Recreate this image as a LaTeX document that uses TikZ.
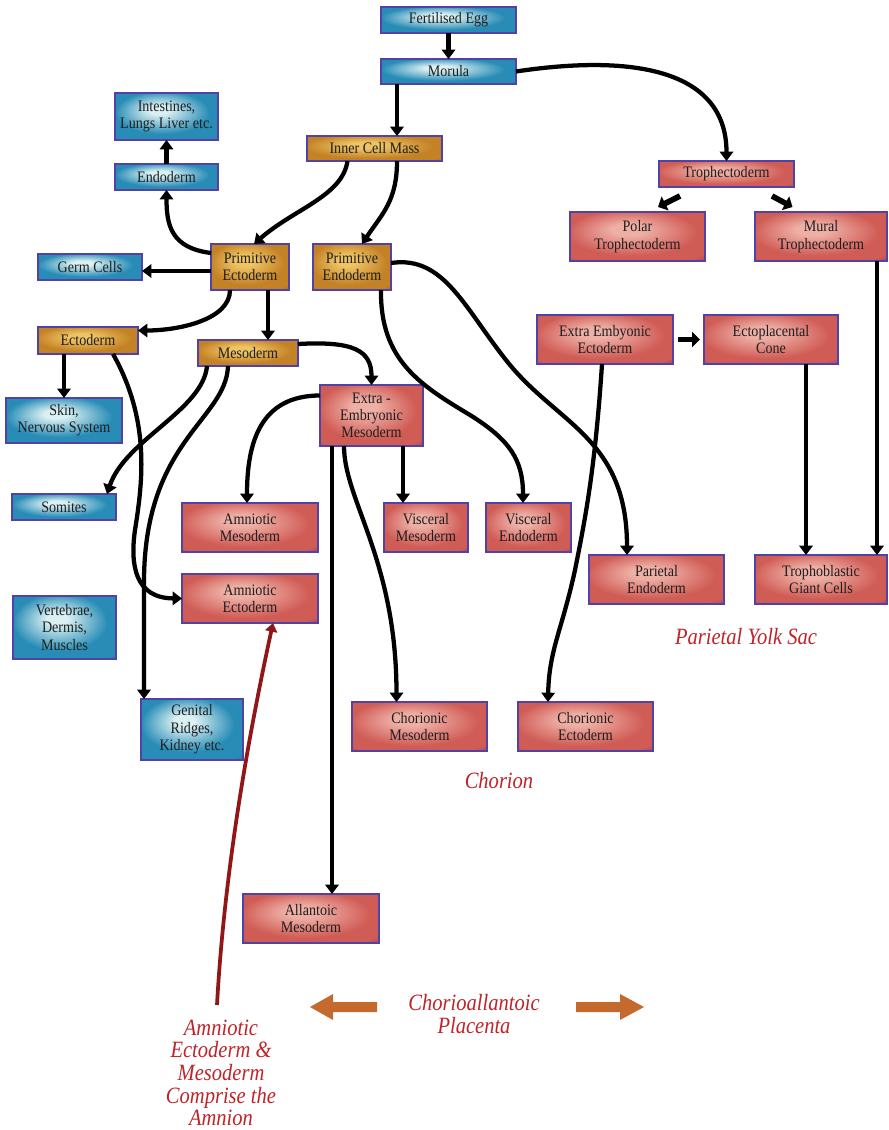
\documentclass[tikz,border=0pt]{standalone}
\usepackage{fontspec}
\setmainfont{Liberation Serif}
\newfontfamily\boxfont[FakeStretch=0.88]{Liberation Serif}
\newfontfamily\labfont[FakeStretch=0.88]{Liberation Serif}
\usetikzlibrary{arrows.meta,calc}
\definecolor{bluein}{RGB}{218,240,242}
\definecolor{blueout}{RGB}{40,140,182}
\definecolor{bluedark}{RGB}{32,72,135}
\definecolor{orin}{RGB}{238,196,100}
\definecolor{orout}{RGB}{196,130,38}
\definecolor{ordark}{RGB}{110,62,45}
\definecolor{redin}{RGB}{238,175,165}
\definecolor{redout}{RGB}{208,92,86}
\definecolor{reddark}{RGB}{92,42,122}
\definecolor{boxline}{RGB}{82,66,165}
\definecolor{labred}{RGB}{192,36,40}
\definecolor{amred}{RGB}{145,22,24}
\definecolor{plac}{RGB}{196,106,46}
\definecolor{txt}{RGB}{30,30,30}
\pgfdeclareradialshading{blueshade}{\pgfqpoint{-4bp}{8bp}}{color(0bp)=(bluein); color(5bp)=(bluein); color(23bp)=(blueout); color(34bp)=(blueout); color(46bp)=(bluedark); color(50bp)=(bluedark)}
\pgfdeclareradialshading{orangeshade}{\pgfqpoint{-4bp}{8bp}}{color(0bp)=(orin); color(6bp)=(orin); color(24bp)=(orout); color(33bp)=(orout); color(45bp)=(ordark); color(50bp)=(ordark)}
\pgfdeclareradialshading{redshade}{\pgfqpoint{-4bp}{8bp}}{color(0bp)=(redin); color(6bp)=(redin); color(24bp)=(redout); color(33bp)=(redout); color(45bp)=(reddark); color(50bp)=(reddark)}
\newcommand{\mkbox}[7]{\node[#2, minimum width={(#5-#3)*0.75pt}, minimum height={(#6-#4)*0.75pt}] (#1) at ({(#3+#5)/2},{(#4+#6)/2}) {#7};}
\tikzset{
  box/.style={draw=boxline, line width=1.1pt, inner sep=0pt, outer sep=0pt, align=center,
    text=txt, font=\boxfont\fontsize{12}{13}\selectfont},
  bluebox/.style={box, shade, shading=blueshade},
  orbox/.style={box, shade, shading=orangeshade},
  redbox/.style={box, shade, shading=redshade},
  conn/.style={line width=3.2pt, -{Triangle[length=7pt,width=10pt]}},
  thickarr/.style={line width=4.2pt, -{Triangle[length=6pt,width=11.5pt]}},
  redconn/.style={amred, line width=2.8pt, -{Triangle[length=6.5pt,width=9pt]}},
  lab/.style={text=labred, align=center, inner sep=0pt, font=\labfont\itshape\fontsize{17.5}{17}\selectfont},
}
\begin{document}
\begin{tikzpicture}[x=0.75pt,y=-0.75pt]
\useasboundingbox (0,0) rectangle (888,1130);
\fill[white] (0,0) rectangle (888,1130);
% boxes
\mkbox{egg}{bluebox}{381}{7}{516}{33}{Fertilised Egg}
\mkbox{morula}{bluebox}{381}{59}{516}{84}{Morula}
\mkbox{icm}{orbox}{307}{136}{442}{161}{Inner Cell Mass}
\mkbox{intest}{bluebox}{115}{93}{218}{140}{Intestines,\\Lungs Liver etc.}
\mkbox{endo}{bluebox}{115}{164}{218}{190}{Endoderm}
\mkbox{germ}{bluebox}{38}{254}{142}{280}{Germ Cells}
\mkbox{pect}{orbox}{211}{244}{289}{290}{Primitive\\Ectoderm}
\mkbox{pend}{orbox}{313}{244}{391}{290}{Primitive\\Endoderm}
\mkbox{ecto}{orbox}{38}{327}{138}{354}{Ectoderm}
\mkbox{meso}{orbox}{198}{340}{298}{366}{Mesoderm}
\mkbox{skin}{bluebox}{6}{398}{122}{443}{Skin,\\Nervous System}
\mkbox{eem}{redbox}{320}{385}{423}{446}{Extra -\\Embryonic\\Mesoderm}
\mkbox{troph}{redbox}{659}{161}{794}{187}{Trophectoderm}
\mkbox{polar}{redbox}{570}{212}{705}{261}{Polar\\Trophectoderm}
\mkbox{mural}{redbox}{755}{212}{887}{261}{Mural\\Trophectoderm}
\mkbox{eee}{redbox}{537}{315}{673}{364}{Extra Embyonic\\Ectoderm}
\mkbox{epc}{redbox}{704}{315}{838}{364}{Ectoplacental\\Cone}
\mkbox{somites}{bluebox}{12}{494}{116}{520}{Somites}
\mkbox{vert}{bluebox}{13}{596}{116}{659}{Vertebrae,\\Dermis,\\Muscles}
\mkbox{amm}{redbox}{182}{503}{318}{552}{Amniotic\\Mesoderm}
\mkbox{ame}{redbox}{182}{574}{318}{623}{Amniotic\\Ectoderm}
\mkbox{genital}{bluebox}{141}{699}{243}{760}{Genital\\Ridges,\\Kidney etc.}
\mkbox{vmes}{redbox}{384}{503}{468}{552}{Visceral\\Mesoderm}
\mkbox{vend}{redbox}{486}{503}{571}{552}{Visceral\\Endoderm}
\mkbox{pare}{redbox}{589}{555}{724}{604}{Parietal\\Endoderm}
\mkbox{tgc}{redbox}{755}{555}{887}{604}{Trophoblastic\\Giant Cells}
\mkbox{chm}{redbox}{352}{702}{487}{751}{Chorionic\\Mesoderm}
\mkbox{che}{redbox}{518}{702}{653}{751}{Chorionic\\Ectoderm}
\mkbox{allan}{redbox}{243}{894}{379}{943}{Allantoic\\Mesoderm}
% labels
\node[lab] (pys) at (746,637) {Parietal Yolk Sac};
\node[lab] (chorion) at (499,781) {Chorion};
\node[lab] (cap) at (474,1014) {Chorioallantoic\\Placenta};
\node[lab] (amnion) at (221,1073) {Amniotic\\Ectoderm \&\\Mesoderm\\Comprise the\\Amnion};
\coordinate (redstart) at (217,1005);
% placenta arrows
\fill[plac] (310,1007) -- (333,994) -- (333,1002) -- (377,1002) -- (377,1012) -- (333,1012) -- (333,1020) -- cycle;
\fill[plac] (644,1007) -- (620,994) -- (620,1002) -- (576,1002) -- (576,1012) -- (620,1012) -- (620,1020) -- cycle;
% connectors
\draw[conn] (egg.south) -- (morula.north);
\draw[conn] ($(morula.south)+(-51.5,0)$) -- ($(icm.north)+(22.5,0)$);
\draw[conn] (morula.east) .. controls +(120,-18) and +(0,-90) .. (troph.north);
\draw[conn] ($(icm.south)+(-27,0)$) .. controls +(-5,35) and +(40,-35) .. ($(pect.north)+(4,0)$);
\draw[conn] ($(icm.south)+(22.5,0)$) .. controls +(0,40) and +(20,-30) .. ($(pend.north)+(10,0)$);
\draw[conn] ($(pect.west)+(0,-14)$) .. controls +(-40,-5) and +(0,35) .. (endo.south);
\draw[conn] (endo.north) -- (intest.south);
\draw[conn] ($(pect.west)+(0,4)$) -- ($(germ.east)+(0,4)$);
\draw[conn] ($(pect.south)+(-20,0)$) .. controls +(0,30) and +(40,0) .. ($(ecto.east)+(0,-10)$);
\draw[conn] ($(pect.south)+(18,0)$) -- ($(meso.north)+(20,0)$);
\draw[conn] ($(ecto.south)+(-24,0)$) -- (skin.north);
\draw[conn] ($(ecto.south)+(25,0)$) .. controls (150,420) and (143,480) .. (135,530) .. controls (130,565) and (135,598) .. (ame.west);
\draw[conn] ($(meso.south)+(-41,0)$) .. controls (203,410) and (125,440) .. ($(somites.north)+(43,0)$);
\draw[conn] ($(meso.south)+(-20,0)$) .. controls (226,420) and (145,440) .. (144,580) -- ($(genital.north)+(-48,0)$);
\draw[conn] ($(meso.east)+(0,-9)$) .. controls +(55,-3) and +(0,-35) .. (eem.north);
\draw[conn] ($(eem.west)+(0,-20)$) .. controls +(-60,0) and +(0,-60) .. ($(amm.north)+(-3,0)$);
\draw[conn] ($(eem.south)+(-39.5,0)$) -- ($(allan.north)+(21,0)$);
\draw[conn] ($(eem.south)+(-27.5,0)$) .. controls (344,500) and (396.5,560) .. ($(chm.north)+(-23,0)$);
\draw[conn] ($(eem.south)+(31.5,0)$) -- ($(vmes.north)+(-23,0)$);
\draw[conn] ($(pend.south)+(29,0)$) .. controls (380,360) and (420,385) .. (470,415) .. controls (510,440) and (523,460) .. ($(vend.north)+(-5.5,0)$);
\draw[conn] ($(pend.east)+(0,-4)$) .. controls (445,255) and (465,310) .. (510,365) .. controls (560,425) and (627,440) .. ($(pare.north)+(-29.5,0)$);
\draw[conn] ($(eee.south)+(-3,0)$) .. controls (595,470) and (585,520) .. (575,570) .. controls (562,630) and (549,650) .. ($(che.north)+(-37.5,0)$);
\draw[thickarr] ($(eee.east)+(5,0)$) -- ($(epc.west)+(-4,0)$);
\draw[conn] ($(epc.south)+(35,0)$) -- ($(tgc.north)+(-15,0)$);
\draw[conn] ($(mural.south)+(56,0)$) -- ($(tgc.north)+(56,0)$);
\draw[thickarr] ($(troph.south)+(-46.5,9)$) -- ($(polar.north)+(20.5,-5)$);
\draw[thickarr] ($(troph.south)+(45.5,9)$) -- ($(mural.north)+(-28.5,-5)$);
\draw[redconn] (redstart) .. controls (225,860) and (252,720) .. ($(ame.south)+(23,0)$);
\end{tikzpicture}
\end{document}
